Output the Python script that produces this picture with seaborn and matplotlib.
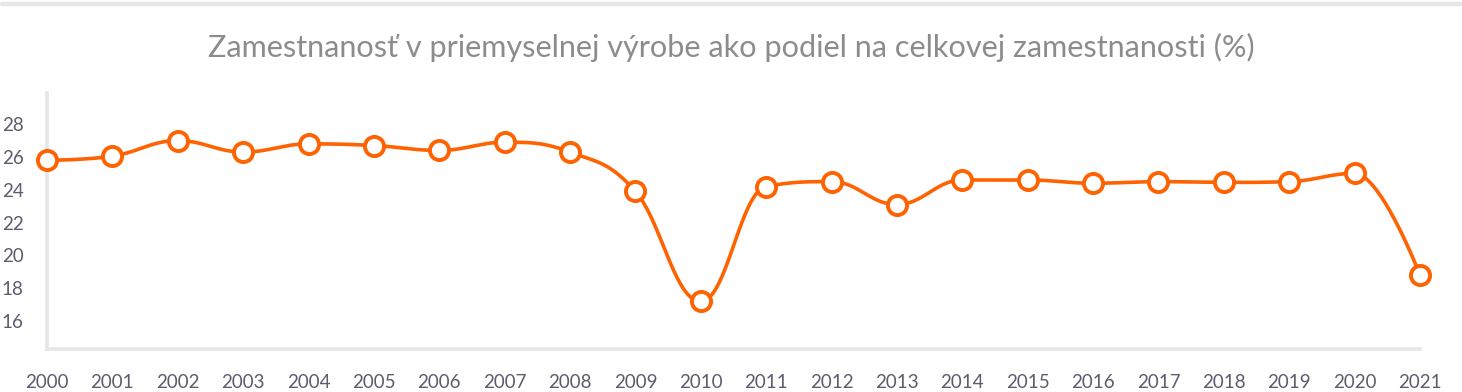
import numpy as np
import pandas as pd
import matplotlib
matplotlib.use("Agg")
import matplotlib.pyplot as plt
import seaborn as sns

years = list(range(2000, 2022))
values = [25.8, 26.05, 27.0, 26.3, 26.8, 26.7, 26.4, 26.9, 26.3, 23.9, 17.2,
          24.2, 24.5, 23.1, 24.6, 24.6, 24.4, 24.5, 24.45, 24.5, 25.0, 18.8]
ytick_vals = [16, 18, 20, 22, 24, 26, 28]
title = "Zamestnanosť v priemyselnej výrobe ako podiel na celkovej zamestnanosti (%)"

ORANGE = "#ff6200"
AXIS_GRAY = "#e6e6e6"


def spline_curve(xs, ys, smoothing=1.5, n=40):
    xs = np.asarray(xs, float)
    ys = np.asarray(ys, float)
    m = len(xs)
    lc = [None] * m
    rc = [None] * m
    for i in range(1, m - 1):
        lx, ly = xs[i - 1], ys[i - 1]
        px, py = xs[i], ys[i]
        nx, ny = xs[i + 1], ys[i + 1]
        lcx = (smoothing * px + lx) / (smoothing + 1)
        lcy = (smoothing * py + ly) / (smoothing + 1)
        rcx = (smoothing * px + nx) / (smoothing + 1)
        rcy = (smoothing * py + ny) / (smoothing + 1)
        corr = ((rcy - lcy) * (rcx - px)) / (rcx - lcx) + py - rcy
        lcy += corr
        rcy += corr
        if lcy > ly and lcy > py:
            lcy = max(ly, py)
            rcy = 2 * py - lcy
        elif lcy < ly and lcy < py:
            lcy = min(ly, py)
            rcy = 2 * py - lcy
        if rcy > ny and rcy > py:
            rcy = max(ny, py)
            lcy = 2 * py - rcy
        elif rcy < ny and rcy < py:
            rcy = min(ny, py)
            lcy = 2 * py - rcy
        lc[i] = (lcx, lcy)
        rc[i] = (rcx, rcy)
    ox, oy = [xs[0]], [ys[0]]
    t = np.linspace(0, 1, n)[1:]
    for i in range(1, m):
        p0 = (xs[i - 1], ys[i - 1])
        p1 = rc[i - 1] if rc[i - 1] is not None else p0
        p3 = (xs[i], ys[i])
        p2 = lc[i] if lc[i] is not None else p3
        bx = ((1 - t) ** 3) * p0[0] + 3 * ((1 - t) ** 2) * t * p1[0] + 3 * (1 - t) * t ** 2 * p2[0] + t ** 3 * p3[0]
        by = ((1 - t) ** 3) * p0[1] + 3 * ((1 - t) ** 2) * t * p1[1] + 3 * (1 - t) * t ** 2 * p2[1] + t ** 3 * p3[1]
        ox.extend(bx)
        oy.extend(by)
    return np.array(ox), np.array(oy)


sns.set_theme(style="white")
plt.rcParams["font.family"] = ["Lato", "DejaVu Sans"]

df = pd.DataFrame({"year": years, "value": values})
cx, cy = spline_curve(df["year"], df["value"])
curve = pd.DataFrame({"x": cx, "y": cy})

fig = plt.figure(figsize=(14.62, 3.92), dpi=100)
ax = fig.add_axes([47 / 1462, 43 / 392, (1420 - 47) / 1462, (349 - 93) / 392])

sns.lineplot(data=curve, x="x", y="y", ax=ax, color=ORANGE, linewidth=2.6,
             sort=False, estimator=None, clip_on=False, zorder=3)
sns.scatterplot(data=df, x="year", y="value", ax=ax, s=190, facecolor="white",
                edgecolor=ORANGE, linewidth=2.8, clip_on=False, zorder=4)

ax.set_xlim(2000, 2021)
ax.set_ylim(14.3, 29.9)
ax.set_xticks(years)
ax.set_xticklabels([str(y) for y in years])
ax.set_yticks(ytick_vals)
ax.set_yticklabels([str(v) for v in ytick_vals])
ax.set_xlabel("")
ax.set_ylabel("")

for s in ["top", "right"]:
    ax.spines[s].set_visible(False)
for s in ["left", "bottom"]:
    ax.spines[s].set_visible(True)
    ax.spines[s].set_color(AXIS_GRAY)
    ax.spines[s].set_linewidth(2.6)

ax.tick_params(axis="both", which="major", direction="inout", length=15, width=1.6,
               color=AXIS_GRAY, labelcolor="#5c5c6e", labelsize=13.5)
ax.tick_params(axis="x", pad=10.5)
ax.tick_params(axis="y", pad=9.5)
ax.grid(False)

fig.text(0.5, 1 - 47 / 392, title, ha="center", va="center",
         fontsize=22.1, color="#8c8c8c")

fig.add_artist(plt.Line2D([2 / 1462, 1460 / 1462], [1 - 4 / 392, 1 - 4 / 392],
                          color=AXIS_GRAY, linewidth=3.2, transform=fig.transFigure))

fig.savefig("out.png", dpi=100, facecolor="white")
